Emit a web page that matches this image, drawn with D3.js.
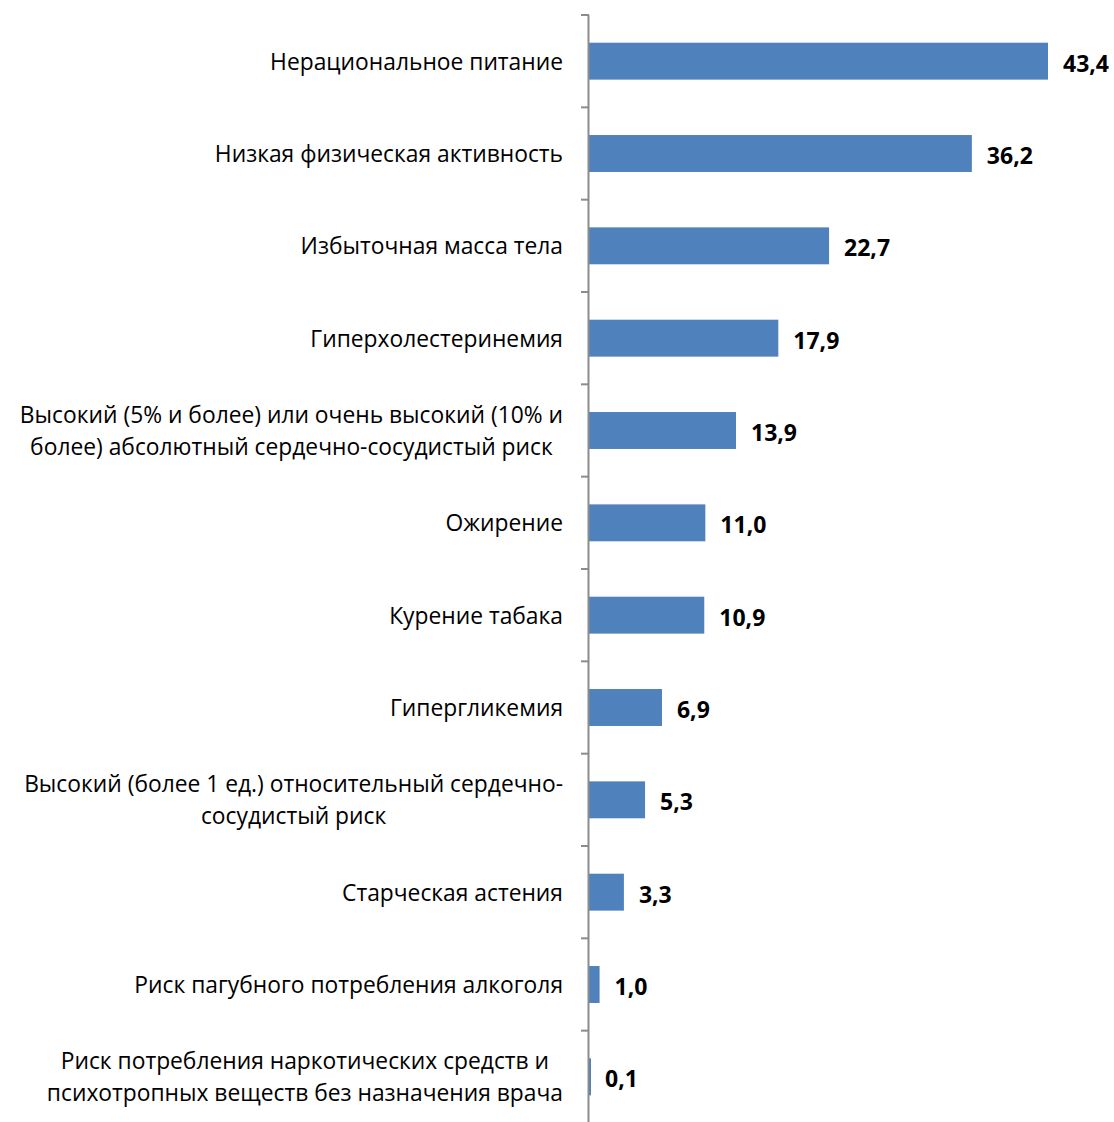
<!DOCTYPE html>
<html>
<head>
<meta charset="utf-8">
<script src="https://cdn.jsdelivr.net/npm/d3@7"></script>
<style>
  body { margin: 0; background: #fff; }
  text { font-family: "Open Sans", "Noto Sans", sans-serif; fill: #000; }
</style>
</head>
<body>
<div id="chart"></div>
<script>
// categories, top to bottom (lines split where the original wraps)
var categories = [
    ["Нерациональное питание"],
    ["Низкая физическая активность"],
    ["Избыточная масса тела"],
    ["Гиперхолестеринемия"],
    ["Высокий (5% и более) или очень высокий (10% и", "более) абсолютный сердечно-сосудистый риск"],
    ["Ожирение"],
    ["Курение табака"],
    ["Гипергликемия"],
    ["Высокий (более 1 ед.) относительный сердечно-", "сосудистый риск"],
    ["Старческая астения"],
    ["Риск пагубного потребления алкоголя"],
    ["Риск потребления наркотических средств и", "психотропных веществ без назначения врача"]
];
var values = [43.4, 36.2, 22.7, 17.9, 13.9, 11.0, 10.9, 6.9, 5.3, 3.3, 1.0, 0.1];
var valueLabels = ["43,4", "36,2", "22,7", "17,9", "13,9", "11,0", "10,9", "6,9", "5,3", "3,3", "1,0", "0,1"];

var width = 1114, height = 1122;
var axisX = 589;
var labelRight = 563;

var svg = d3.select("#chart").append("svg")
    .attr("width", width)
    .attr("height", height);

var y = d3.scaleBand()
    .domain(d3.range(categories.length))
    .range([15, 1123])
    .paddingInner(0.6)
    .paddingOuter(0.3);

var x = d3.scaleLinear()
    .domain([0, 43.4])
    .range([axisX, 1048]);

// bars
svg.selectAll("rect.bar")
    .data(values)
    .enter().append("rect")
    .attr("class", "bar")
    .attr("x", x(0))
    .attr("y", function(d, i) { return y(i); })
    .attr("width", function(d) { return Math.max(2, x(d) - x(0)); })
    .attr("height", y.bandwidth())
    .attr("fill", "#4f81bd");

// axis line + ticks at band boundaries
svg.append("line")
    .attr("x1", axisX - 0.5).attr("x2", axisX - 0.5)
    .attr("y1", 15).attr("y2", height)
    .attr("stroke", "#8c8c8c")
    .attr("stroke-width", 2);

var step = y.step();
svg.selectAll("line.tick")
    .data(d3.range(categories.length + 1))
    .enter().append("line")
    .attr("class", "tick")
    .attr("x1", axisX - 8).attr("x2", axisX)
    .attr("y1", function(i) { return 15 + i * step; })
    .attr("y2", function(i) { return 15 + i * step; })
    .attr("stroke", "#8c8c8c")
    .attr("stroke-width", 2);

// category labels, multi-line ones centred on each other, block right aligned
var lineGap = 32;
categories.forEach(function(lines, i) {
    var cy = y(i) + y.bandwidth() / 2;
    var g = svg.append("g");
    var texts = lines.map(function(s, k) {
        return g.append("text")
            .attr("y", cy + (k - (lines.length - 1) / 2) * lineGap)
            .attr("dy", "0.38em")
            .attr("font-size", 22.8)
            .text(s);
    });
    var maxW = d3.max(texts, function(t) { return t.node().getComputedTextLength(); });
    texts.forEach(function(t) {
        t.attr("text-anchor", "middle").attr("x", labelRight - maxW / 2);
    });
});

// value labels
svg.selectAll("text.val")
    .data(values)
    .enter().append("text")
    .attr("class", "val")
    .attr("x", function(d) { return x(d) + 15; })
    .attr("y", function(d, i) { return y(i) + y.bandwidth() / 2; })
    .attr("dy", "0.45em")
    .attr("font-size", 23)
    .attr("font-weight", "bold")
    .text(function(d, i) { return valueLabels[i]; });
</script>
</body>
</html>
